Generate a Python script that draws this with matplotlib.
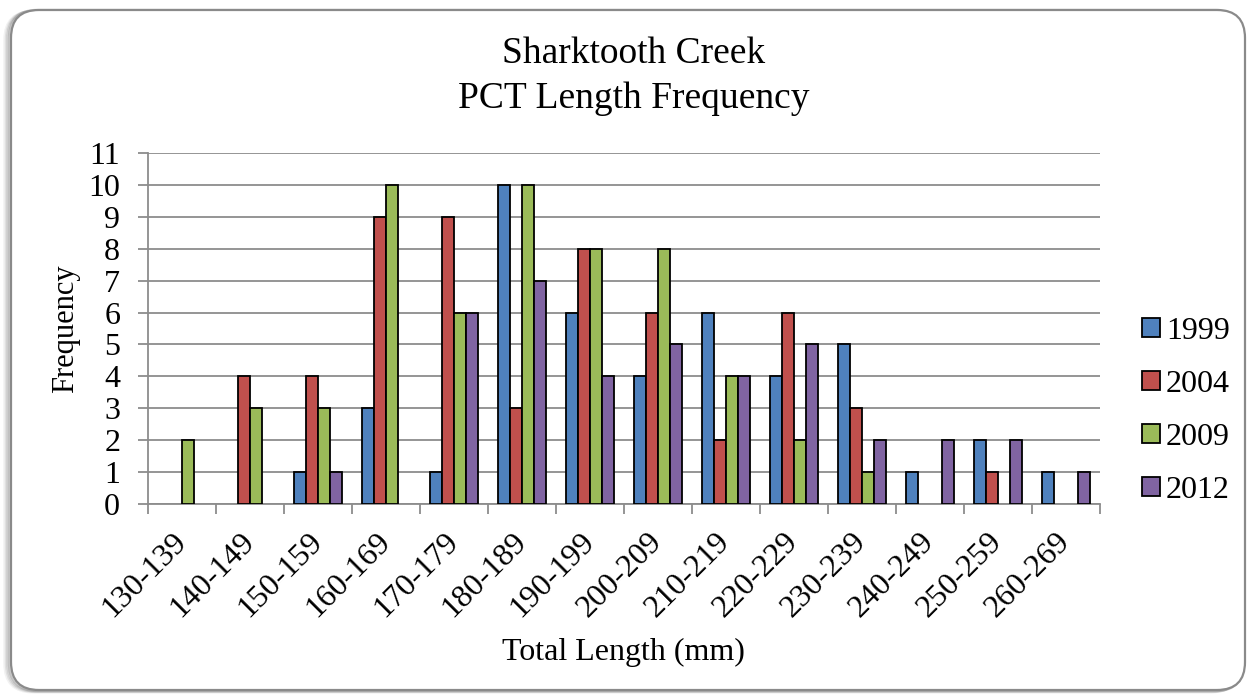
import numpy as np
import matplotlib.pyplot as plt
from matplotlib.patches import FancyBboxPatch, Patch

plt.rcParams['font.family'] = ['Liberation Serif', 'DejaVu Serif']

# length classes (mm) and fish counts per survey year
length_bins = ['130-139', '140-149', '150-159', '160-169', '170-179', '180-189',
               '190-199', '200-209', '210-219', '220-229', '230-239', '240-249',
               '250-259', '260-269']
years = ['1999', '2004', '2009', '2012']
counts_1999 = [0, 0, 1, 3, 1, 10, 6, 4, 6, 4, 5, 1, 2, 1]
counts_2004 = [0, 4, 4, 9, 9, 3, 8, 6, 2, 6, 3, 0, 1, 0]
counts_2009 = [2, 3, 3, 10, 6, 10, 8, 8, 4, 2, 1, 0, 0, 0]
counts_2012 = [0, 0, 1, 0, 6, 7, 4, 5, 4, 5, 2, 2, 2, 1]
series = [counts_1999, counts_2004, counts_2009, counts_2012]
colors = ['#4F81BD', '#C0504D', '#9BBB59', '#8064A2']

W, H = 1255, 698
fig = plt.figure(figsize=(W / 100, H / 100), dpi=100)

# rounded chart frame with a soft shadow, drawn in pixel coordinates
bg = fig.add_axes([0, 0, 1, 1], zorder=0)
bg.set_xlim(0, W)
bg.set_ylim(H, 0)
bg.axis('off')
for i, a in enumerate([0.05, 0.07, 0.10, 0.14]):
    off = 6 - i * 1.5
    bg.add_patch(FancyBboxPatch((11 - off, 10 + off * 0.3), 1234, 680,
                                boxstyle='round,pad=0,rounding_size=28',
                                facecolor='none', edgecolor='black',
                                linewidth=2.5, alpha=a))
bg.add_patch(FancyBboxPatch((11, 10), 1234, 680,
                            boxstyle='round,pad=0,rounding_size=28',
                            facecolor='white', edgecolor='#8a8a8a', linewidth=1.6))

ax = fig.add_axes([148 / W, 1 - 504 / H, (1100 - 148) / W, (504 - 153) / H], zorder=1)
ax.patch.set_alpha(0)

x = np.arange(len(length_bins))
width = 12 / 68
for i, (vals, col, yr) in enumerate(zip(series, colors, years)):
    bars = ax.bar(x + (i - 1.5) * width, vals, width, color=col, edgecolor='black',
                  linewidth=1.3, label=yr, zorder=3)
    for b, v in zip(bars, vals):
        if v == 0:
            b.set_visible(False)

ax.set_xlim(-0.5, len(length_bins) - 0.5)
ax.set_ylim(0, 11)
ax.set_yticks(range(0, 12))
ax.yaxis.grid(True, color='#8c8c8c', linewidth=1.3, zorder=0)
ax.set_axisbelow(True)

ax.set_xticks(np.arange(len(length_bins) + 1) - 0.5)
ax.set_xticklabels([])
ax.set_xticks(x, minor=True)
ax.set_xticklabels(length_bins, minor=True, rotation=45, ha='right',
                   va='center', rotation_mode='anchor', fontsize=23)
ax.tick_params(axis='x', which='minor', length=0, pad=24)
ax.tick_params(axis='x', which='major', length=7, width=1.3, color='#8c8c8c')
ax.tick_params(axis='y', length=7, width=1.3, color='#8c8c8c', labelsize=23, pad=13)

for side in ['top', 'right']:
    ax.spines[side].set_visible(False)
for side in ['left', 'bottom']:
    ax.spines[side].set_color('#8c8c8c')
    ax.spines[side].set_linewidth(1.3)

ax.set_ylabel('Frequency', fontsize=22, labelpad=6)
fig.text(623 / W, 1 - 652 / H, 'Total Length (mm)', fontsize=23,
         ha='center', va='center')

fig.text(634 / W, 1 - 54 / H, 'Sharktooth Creek', fontsize=27, ha='center', va='center')
fig.text(634 / W, 1 - 99 / H, 'PCT Length Frequency', fontsize=27, ha='center', va='center')

handles = [Patch(facecolor=c, edgecolor='black', linewidth=1.3) for c in colors]
fig.legend(handles, years, loc='center left', bbox_to_anchor=(1142 / W, 1 - 411 / H),
           frameon=False, fontsize=23, handlelength=0.55, handleheight=0.55,
           handletextpad=0.2, labelspacing=0.75, borderpad=0, borderaxespad=0)

fig.savefig('out.png', dpi=100)
